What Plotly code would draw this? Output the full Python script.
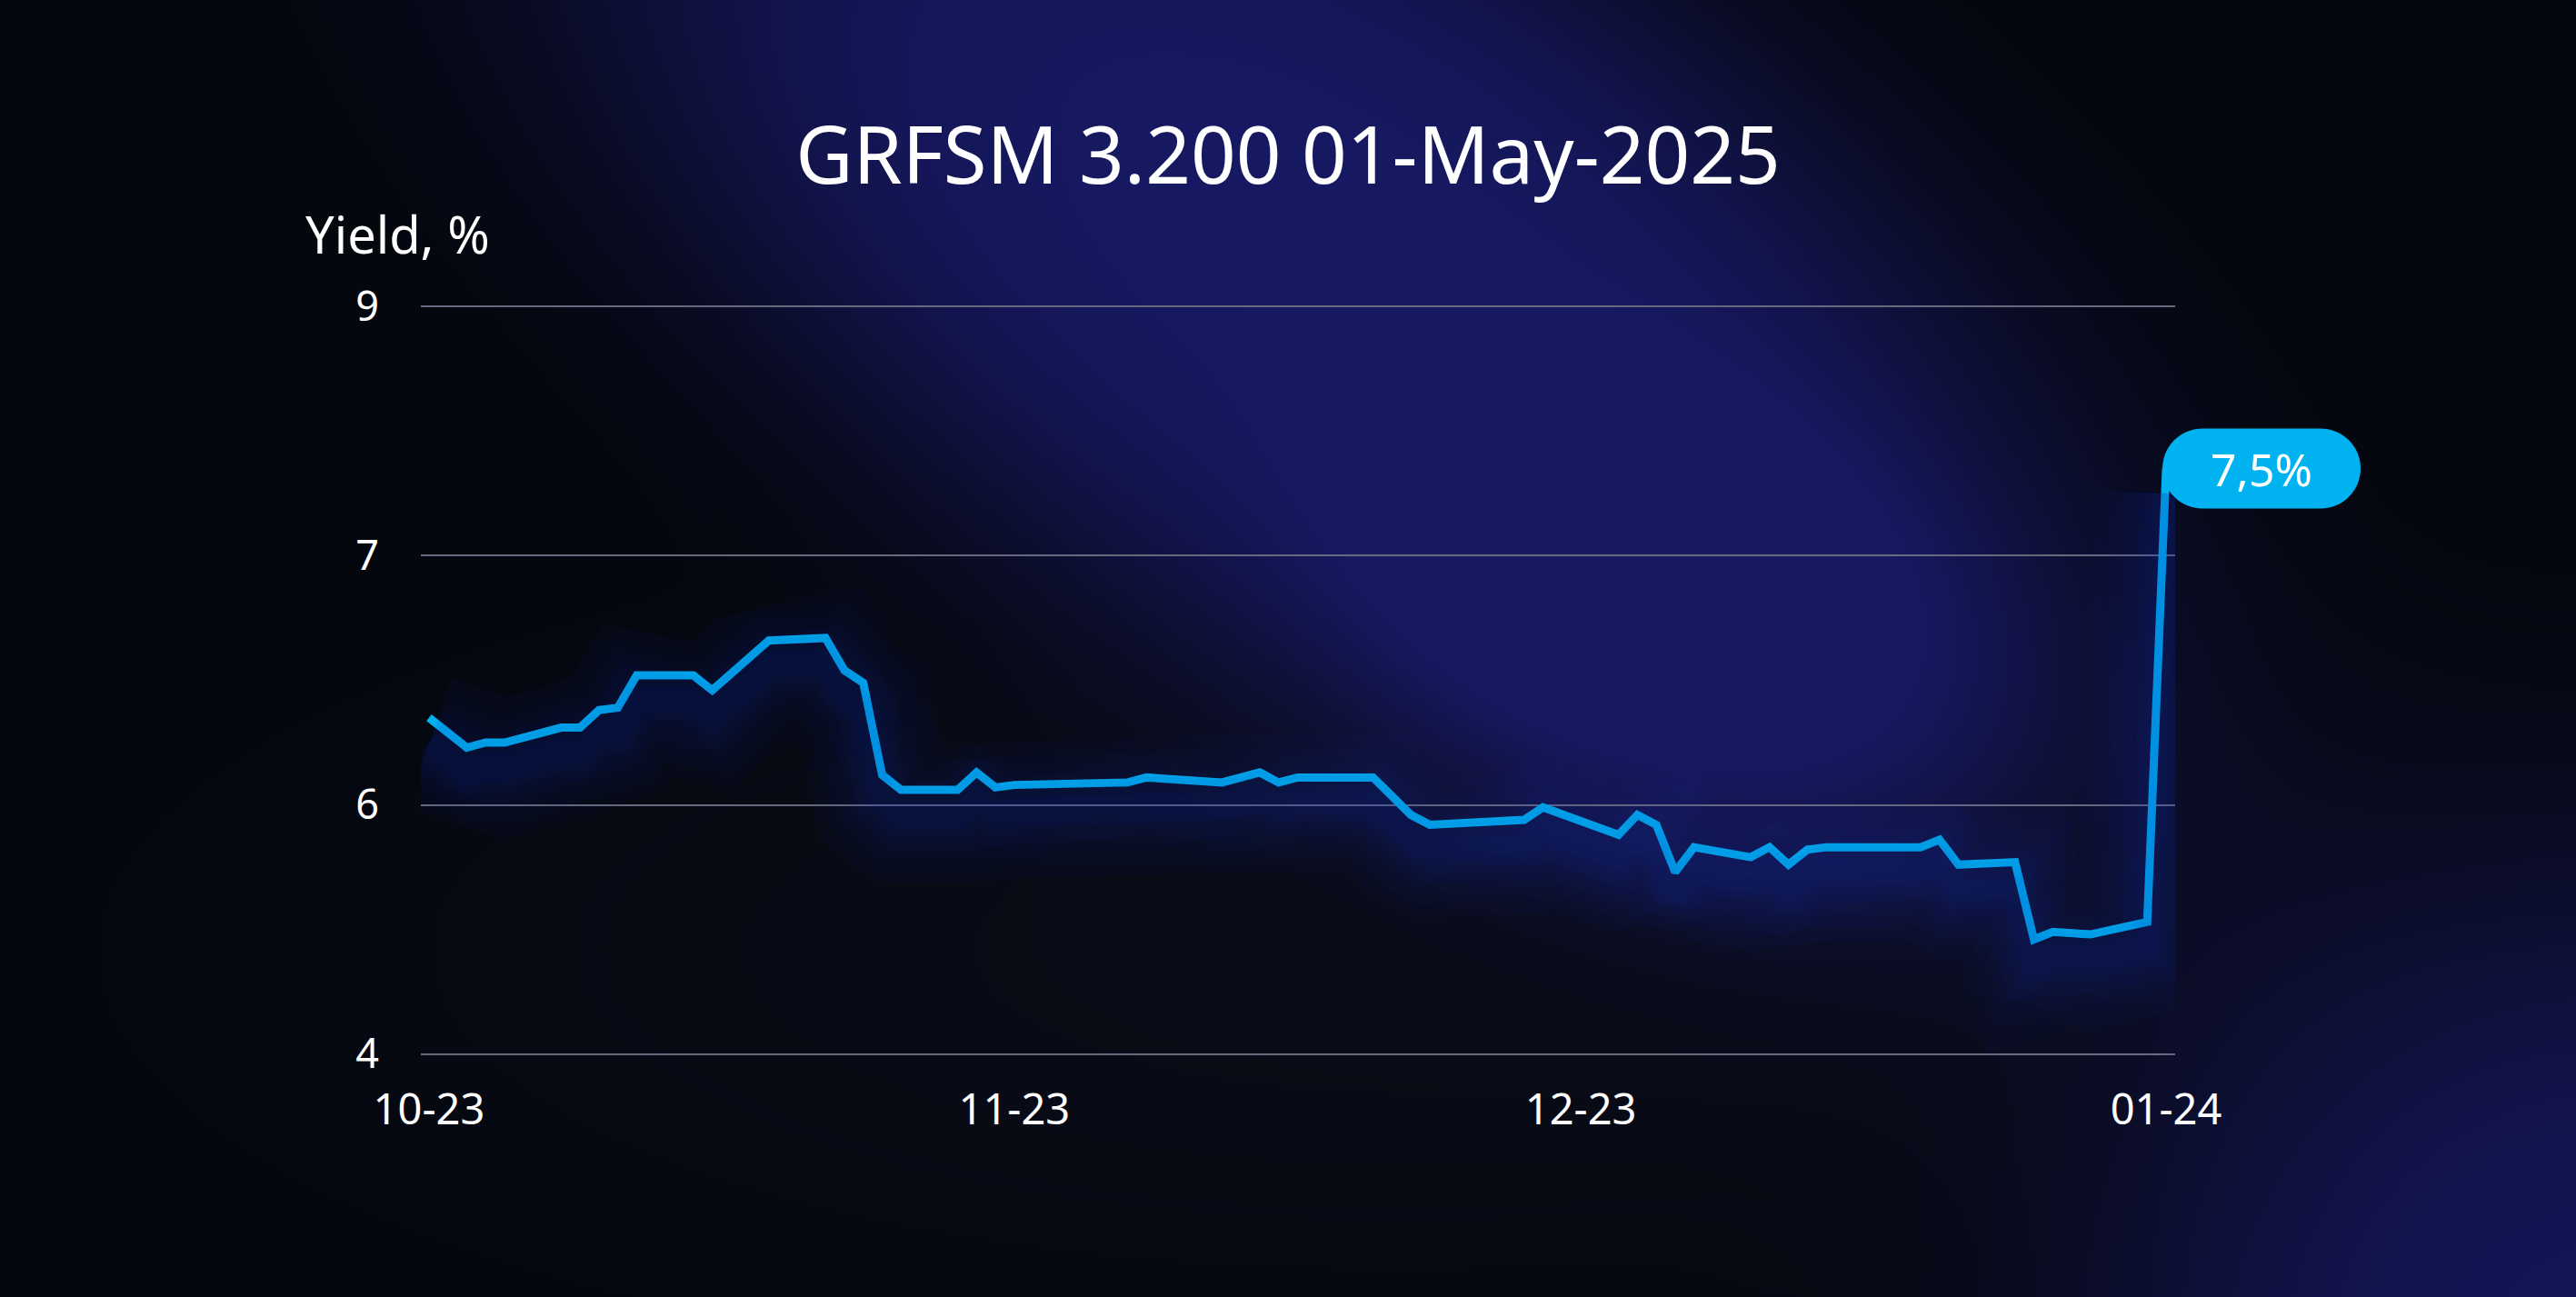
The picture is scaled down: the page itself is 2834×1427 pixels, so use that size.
import base64, struct, zlib
import numpy as np
import pandas as pd
import plotly.graph_objects as go

# ---------------- data ----------------
dates = ["2023-10-01", "2023-10-03", "2023-10-04", "2023-10-05", "2023-10-08", "2023-10-09",
         "2023-10-10", "2023-10-11", "2023-10-12", "2023-10-15", "2023-10-16", "2023-10-18",
         "2023-10-19", "2023-10-22", "2023-10-23", "2023-10-24", "2023-10-25", "2023-10-26",
         "2023-10-29", "2023-10-30", "2023-10-31", "2023-11-01", "2023-11-07", "2023-11-08",
         "2023-11-12", "2023-11-14", "2023-11-15", "2023-11-16", "2023-11-20", "2023-11-22",
         "2023-11-23", "2023-11-28", "2023-11-29", "2023-12-03", "2023-12-04", "2023-12-05",
         "2023-12-06", "2023-12-07", "2023-12-10", "2023-12-11", "2023-12-12", "2023-12-13",
         "2023-12-14", "2023-12-19", "2023-12-20", "2023-12-21", "2023-12-24", "2023-12-25",
         "2023-12-26", "2023-12-28", "2023-12-31", "2024-01-01"]
yield_vals = [6.35, 6.23, 6.25, 6.25, 6.31, 6.31,
              6.38, 6.39, 6.52, 6.52, 6.46, 6.60,
              6.66, 6.67, 6.54, 6.49, 6.12, 6.06,
              6.06, 6.13, 6.07, 6.08, 6.09, 6.11,
              6.09, 6.13, 6.09, 6.11, 6.11, 5.96,
              5.92, 5.94, 5.99, 5.88, 5.96, 5.92,
              5.73, 5.83, 5.79, 5.83, 5.76, 5.82,
              5.83, 5.83, 5.86, 5.76, 5.77, 5.46,
              5.49, 5.48, 5.53, 7.35]
y_tickvals = [5, 6, 7, 8]
y_ticktext = ["4", "6", "7", "9"]
title_text = "GRFSM 3.200 01-May-2025"
y_title = "Yield, %"
last_label = "7,5%"

# ---------------- layout constants ----------------
W, H = 2834, 1427
ML, MR, MT, MB = 463, 441, 336, 266
PW, PH = W - ML - MR, H - MT - MB
X_RANGE = [pd.Timestamp("2023-09-30 13:40"), pd.Timestamp("2024-01-01 11:30")]
Y_RANGE = [4.995, 8.005]
LINE_COLOR = "#00B2F0"
FONT = "Noto Sans"

# ---------------- background image (decorative) ----------------
def make_bg():
    bw, bh = 709, 357
    xs = np.linspace(0, 1568, bw)[None, :]
    ys = np.linspace(0, 790, bh)[:, None]

    def blob(cx, cy, a, b, ang, p=1.5):
        t = np.deg2rad(ang)
        dx, dy = xs - cx, ys - cy
        u = dx * np.cos(t) + dy * np.sin(t)
        v = -dx * np.sin(t) + dy * np.cos(t)
        d2 = (u / a) ** 2 + (v / b) ** 2
        return np.exp(-d2 ** p)

    ind = (blob(810, 160, 530, 250, 33, 1.8) + 0.5 * blob(1030, 390, 210, 140, 20)
           + 0.85 * blob(1600, 850, 330, 320, 0))
    ind = np.clip(ind, 0, 1)
    mid = 0.6 * blob(850, 580, 700, 230, 0)
    base = np.array([5, 7, 15], float)
    midc = np.array([12, 14, 27], float)
    indc = np.array([23, 25, 98], float)
    img = base[None, None, :] + mid[..., None] * (midc - base)[None, None, :]
    img = img + ind[..., None] * (indc[None, None, :] - img)
    img = np.clip(img, 0, 255).astype(np.uint8)
    raw = b"".join(b"\x00" + img[i].tobytes() for i in range(bh))

    def chunk(t, d):
        return struct.pack(">I", len(d)) + t + d + struct.pack(">I", zlib.crc32(t + d) & 0xffffffff)

    png = (b"\x89PNG\r\n\x1a\n" + chunk(b"IHDR", struct.pack(">IIBBBBB", bw, bh, 8, 2, 0, 0, 0))
           + chunk(b"IDAT", zlib.compress(raw, 9)) + chunk(b"IEND", b""))
    return "data:image/png;base64," + base64.b64encode(png).decode()

x_dates = pd.to_datetime(dates)

fig = go.Figure()

# soft glow under the line (drawn on a slightly shifted overlay axis)
for w in [150, 120, 95, 75, 58, 44, 32, 22]:
    fig.add_trace(go.Scatter(x=x_dates, y=yield_vals, mode="lines", yaxis="y2",
                             line=dict(color="rgba(30,70,190,0.035)", width=w),
                             hoverinfo="skip", showlegend=False))

fig.add_trace(go.Scatter(x=x_dates, y=yield_vals, mode="lines",
                         line=dict(color=LINE_COLOR, width=9), showlegend=False))

# pill label anchored at the last point
x0n, x1n = X_RANGE[0].value, X_RANGE[1].value
fx = (x_dates[-1].value - x0n) / (x1n - x0n)
fy = (yield_vals[-1] - Y_RANGE[0]) / (Y_RANGE[1] - Y_RANGE[0])
r, L, R = 44, -4, 214
k = 0.5523 * r
path = (f"M {L + r},{r} L {R - r},{r} C {R - r + k},{r} {R},{k} {R},0 "
        f"C {R},{-k} {R - r + k},{-r} {R - r},{-r} L {L + r},{-r} "
        f"C {L + r - k},{-r} {L},{-k} {L},0 C {L},{k} {L + r - k},{r} {L + r},{r} Z")
fig.add_shape(type="path", xref="paper", yref="paper", xsizemode="pixel", ysizemode="pixel",
              xanchor=fx, yanchor=fy, path=path, fillcolor=LINE_COLOR, line=dict(width=0))
fig.add_annotation(x=x_dates[-1], y=yield_vals[-1], xref="x", yref="y", text=last_label,
                   showarrow=False, xshift=105, font=dict(family=FONT, size=50, color="white"))

fig.add_annotation(x=-(ML - 334) / PW, y=(H - MB - 257) / PH, xref="paper", yref="paper",
                   text=y_title, showarrow=False, xanchor="left", yanchor="middle",
                   font=dict(family=FONT, size=56, color="white"))

fig.add_layout_image(source=make_bg(), xref="paper", yref="paper",
                     x=-ML / PW, y=1 + MT / PH, sizex=W / PW, sizey=H / PH,
                     xanchor="left", yanchor="top", sizing="stretch", layer="below")

shift = 0.10
fig.update_layout(
    width=W, height=H,
    margin=dict(l=ML, r=MR, t=MT, b=MB),
    paper_bgcolor="#05070f", plot_bgcolor="rgba(0,0,0,0)",
    title=dict(text=title_text, x=0.5, xanchor="center", y=1 - 172 / H, yanchor="middle",
               font=dict(family=FONT, size=87, color="white")),
    xaxis=dict(type="date", range=X_RANGE, tickformat="%m-%y", dtick="M1", tick0="2023-10-01",
               showgrid=False, zeroline=False, showline=False, ticks="",
               tickfont=dict(family=FONT, size=47, color="white"), ticklabelstandoff=28),
    yaxis=dict(range=Y_RANGE, tickvals=y_tickvals, ticktext=y_ticktext, showgrid=True,
               gridcolor="#676a7e", gridwidth=2, zeroline=False, showline=False, ticks="",
               tickfont=dict(family=FONT, size=45, color="white"), ticklabelstandoff=45),
    yaxis2=dict(range=[Y_RANGE[0] + shift, Y_RANGE[1] + shift], overlaying="y", visible=False),
    showlegend=False,
)

fig.write_html("out.html", config={"displayModeBar": False},
               post_script="document.body.style.margin='0';document.body.style.overflow='hidden';")
